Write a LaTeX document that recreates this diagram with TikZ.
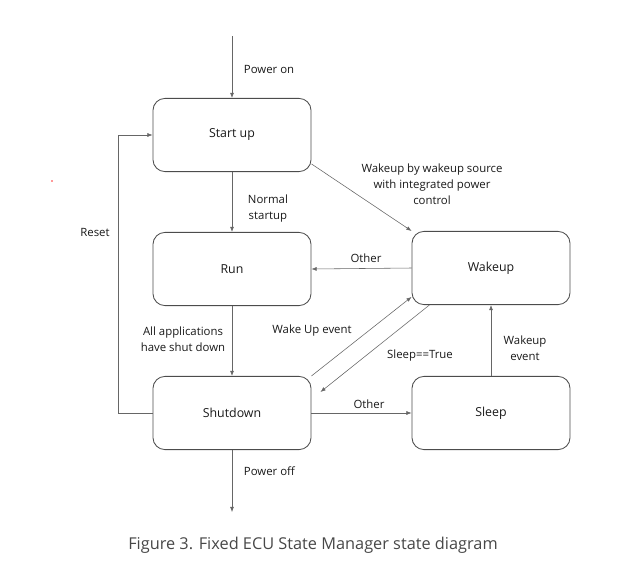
\documentclass[tikz,border=0pt]{standalone}
\usepackage{fontspec}
\setmainfont{Open Sans}
\usetikzlibrary{arrows.meta,calc}
\tikzset{
  state/.style={draw=black!70, semithick, rounded corners=0.3cm, minimum width=3.95cm,
    minimum height=1.83cm, font=\fontsize{8.8}{10}\selectfont, text=black!90},
  lbl/.style={font=\fontsize{8.1}{11.4}\selectfont, text=black!90, align=center},
  trans/.style={draw=black!60, thin, -{Latex[length=1.3mm,width=1mm]}}
}
\begin{document}
\begin{tikzpicture}[x=0.025cm,y=-0.025cm]
\useasboundingbox (0,0) rectangle (636,586);
%Состояния
\node[state] (startup) at (232,135) {Start up};
\node[state] (run) at (232,269) {Run};
\node[state] (wakeup) at (491,268) {Wakeup};
\node[state] (shutdown) at (232,413) {Shutdown};
\node[state] (sleep) at (491,413) {Sleep};
%Свободные концы
\coordinate (poweron) at (232,36);
\coordinate (poweroff) at (232,512);
\coordinate (resetlow) at (118,413);
\coordinate (resethigh) at (118,135);
%Переходы
\draw[trans] (poweron) -- (startup);
\draw[trans] (shutdown) -- (poweroff);
\draw[draw=black!60, thin] (shutdown.west) -- (resetlow) -- (resethigh);
\draw[trans] (resethigh) -- (startup.west);
\draw[trans] (startup) -- (run);
\draw[trans] (startup.-20) -- (wakeup.north west);
\draw[trans] (wakeup.west) -- (run.east);
\draw[trans] (run) -- (shutdown);
\draw[trans] (shutdown.north east) -- (wakeup.200);
\draw[trans] (wakeup.211) -- ($(shutdown.east)+(9,-21)$);
\draw[trans] (shutdown.east) -- (sleep.west);
\draw[trans] (sleep) -- (wakeup);
%Подписи
\node[lbl, anchor=west] (lpoweron) at (239,69) {Power on};
\node[lbl, anchor=west] (lpoweroff) at (239,471) {Power off};
\node[lbl] (lreset) at (95,232) {Reset};
\node[lbl, anchor=west] (lnormal) at (243,209) {Normal\\startup};
\node[lbl] (lsource) at (432,184) {Wakeup by wakeup source\\with integrated power\\control};
\node[lbl] (lother1) at (366,258) {Other};
\node[lbl] (lallapps) at (183,339) {All applications\\have shut down};
\node[lbl] (lwakeupev) at (312,331) {Wake Up event};
\node[lbl] (lsleeptrue) at (420,356) {Sleep==True};
\node[lbl] (lother2) at (369,404) {Other};
\node[lbl] (lwakeev) at (525,348) {Wakeup\\event};
\node[font=\fontsize{11.6}{13}\selectfont, text=black!72] (caption) at (313,545) {Figure 3. Fixed ECU State Manager state diagram};
\fill[red!80] (52,181) circle (0.8);
\end{tikzpicture}
\end{document}
